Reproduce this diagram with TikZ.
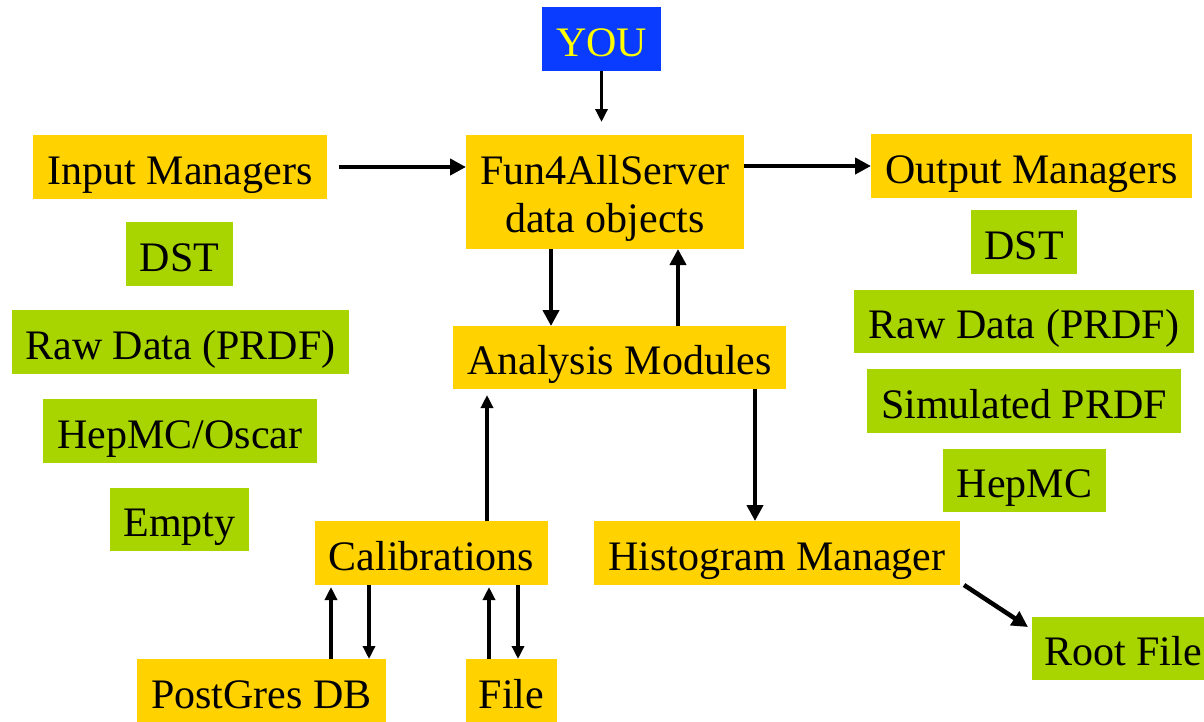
\documentclass[tikz,border=0pt]{standalone}
\usepackage{fontspec}
\setmainfont{Liberation Serif}
\usetikzlibrary{arrows.meta}
\definecolor{boxyellow}{RGB}{255,210,0}
\definecolor{boxgreen}{RGB}{168,212,0}
\definecolor{boxblue}{RGB}{10,60,255}
\definecolor{textyellow}{RGB}{255,255,0}
\begin{document}
\begin{tikzpicture}[x=1pt,y=-1pt,
  every node/.style={inner sep=0pt,outer sep=0pt,font=\fontsize{42}{48}\selectfont,
    text height=34pt,text depth=0pt,minimum height=64pt},
  ybox/.style={fill=boxyellow},
  gbox/.style={fill=boxgreen},
  bbox/.style={fill=boxblue,text=textyellow},
  arr/.style={line width=4.5pt,-{Triangle[length=16pt,width=16pt]}},
  thinarr/.style={line width=3.5pt,-{Triangle[length=13pt,width=12pt]}}]
\useasboundingbox (0,0) rectangle (1204,721);
\clip (0,0) rectangle (1204,721);

% central server and its driver
\node[bbox,minimum width=119pt] (you) at (601.5,39) {YOU};
\node[ybox,minimum width=278pt,minimum height=114pt,align=center,
      text height=82pt,text depth=2pt] (fun) at (605,192) {Fun4AllServer\\data objects};

% input side
\node[ybox,minimum width=294pt] (inmgr) at (180,167) {Input Managers};
\node[gbox,minimum width=107pt] (dstin) at (179.5,254) {DST};
\node[gbox,minimum width=337pt] (rawin) at (180.5,342) {Raw Data (PRDF)};
\node[gbox,minimum width=274pt] (hepin) at (180,431) {HepMC/Oscar};
\node[gbox,minimum width=139pt,minimum height=63pt] (empty) at (179.5,519.5) {Empty};

% output side
\node[ybox,minimum width=321pt] (outmgr) at (1031.5,166) {Output Managers};
\node[gbox,minimum width=106pt] (dstout) at (1024,242) {DST};
\node[gbox,minimum width=340pt,minimum height=63pt] (rawout) at (1024,321.5) {Raw Data (PRDF)};
\node[gbox,minimum width=314pt] (sim) at (1024,401) {Simulated PRDF};
\node[gbox,minimum width=163pt,minimum height=63pt] (hepout) at (1024.5,480.5) {HepMC};

% analysis chain
\node[ybox,minimum width=333pt,minimum height=63pt] (ana) at (619.5,357.5) {Analysis Modules};
\node[ybox,minimum width=366pt] (hist) at (777,553) {Histogram Manager};
\node[gbox,minimum width=182pt,minimum height=63pt] (root) at (1123,648.5) {Root File};

% calibrations and their sources
\node[ybox,minimum width=233pt] (cal) at (431.5,553) {Calibrations};
\node[ybox,minimum width=249pt] (pg) at (261.5,691) {PostGres DB};
\node[ybox,minimum width=91pt] (file) at (511.5,691) {File};

% connectors
\draw[thinarr,shorten >=13pt] (you.south) -- (you.south |- fun.north);
\draw[arr,shorten <=12pt] (inmgr.east) -- (inmgr.east -| fun.west);
\draw[arr] (fun.east |- outmgr.west) -- (outmgr.west);
\draw[arr] ([xshift=-54pt]fun.south) -- ([xshift=-54pt]fun.south |- ana.north);
\draw[arr] ([xshift=73pt]fun.south |- ana.north) -- ([xshift=73pt]fun.south);
\draw[arr] ([xshift=-22pt]hist.north |- ana.south) -- ([xshift=-22pt]hist.north);
\draw[thinarr,shorten >=6pt] ([xshift=55.5pt]cal.north) -- ([xshift=55.5pt]cal.north |- ana.south);
\draw[arr] ([xshift=4pt]hist.south east) -- ([shift={(-4pt,-10pt)}]root.north west);

\draw[thinarr,shorten >=2pt] ([xshift=-100.5pt]cal.south |- pg.north) -- ([xshift=-100.5pt]cal.south);
\draw[thinarr] ([xshift=-62.5pt]cal.south) -- ([xshift=-62.5pt]cal.south |- pg.north);
\draw[thinarr,shorten >=2pt] ([xshift=57.5pt]cal.south |- file.north) -- ([xshift=57.5pt]cal.south);
\draw[thinarr] ([xshift=86.5pt]cal.south) -- ([xshift=86.5pt]cal.south |- file.north);
\end{tikzpicture}
\end{document}
